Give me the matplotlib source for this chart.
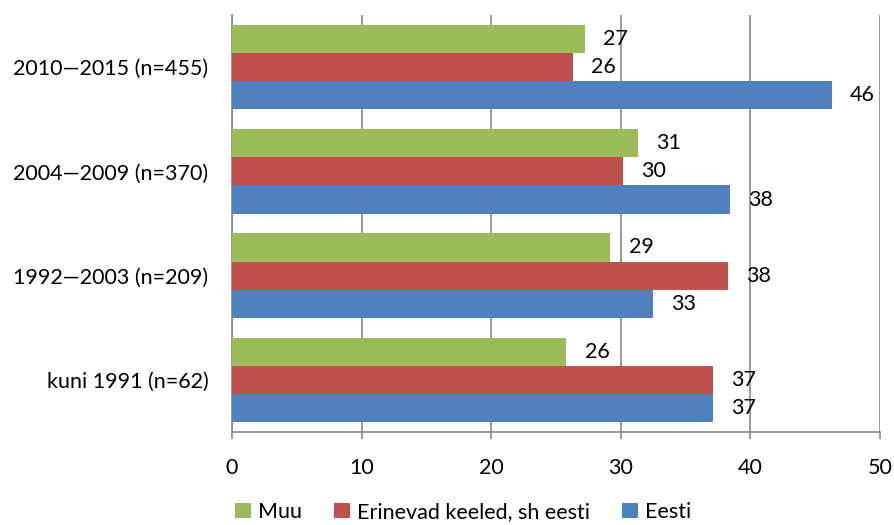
import matplotlib
matplotlib.use('Agg')
import matplotlib.pyplot as plt
import numpy as np

plt.rcParams['font.family'] = ['Lato', 'DejaVu Sans']

# andmed (alt -> üles)
periods = ['kuni 1991 (n=62)', '1992\u20142003 (n=209)', '2004\u20142009 (n=370)', '2010\u20142015 (n=455)']
muu = [25.8, 29.2, 31.3, 27.2]
erinevad = [37.1, 38.3, 30.2, 26.3]
eesti = [37.1, 32.5, 38.4, 46.3]
muu_lbl = [26, 29, 31, 27]
erinevad_lbl = [37, 38, 30, 26]
eesti_lbl = [37, 33, 38, 46]

series = [
    ('Muu', muu, muu_lbl, '#9BBB59'),
    ('Erinevad keeled, sh eesti', erinevad, erinevad_lbl, '#C0504D'),
    ('Eesti', eesti, eesti_lbl, '#4F81BD'),
]

fs = 15.5

fig = plt.figure(figsize=(8.95, 5.25), dpi=100)
ax = fig.add_axes([232 / 895, 1 - 432 / 525, (880 - 232) / 895, (432 - 15) / 525])

y = np.arange(len(periods))
h = 0.27
offsets = [h, 0, -h]
for (name, vals, lbls, col), off in zip(series, offsets):
    bars = ax.barh(y + off, vals, height=h, color=col, label=name, zorder=3)
    for b, lb in zip(bars, lbls):
        ax.text(b.get_width() + 1.4, b.get_y() + b.get_height() / 2, str(lb),
                va='center', ha='left', fontsize=fs, zorder=4)

ax.set_xlim(0, 50)
ax.set_ylim(-0.5, 3.5)
ax.set_xticks(range(0, 51, 10))
ax.set_yticks(y)
ax.set_yticklabels(periods)
ax.grid(axis='x', color='#878787', linewidth=1.2, zorder=0)
ax.tick_params(axis='x', colors='#878787', length=5, width=1.2, labelcolor='black',
               labelsize=fs, pad=14)
ax.tick_params(axis='y', length=0, labelsize=fs, pad=17)
for s in ['top', 'right']:
    ax.spines[s].set_visible(False)
for s in ['left', 'bottom']:
    ax.spines[s].set_color('#878787')
    ax.spines[s].set_linewidth(1.2)

handles, labels = ax.get_legend_handles_labels()
fig.legend(handles, labels, loc='center', bbox_to_anchor=(463 / 895, 1 - 512 / 525), ncol=3,
           frameon=False, fontsize=fs, handlelength=0.75, handleheight=0.75,
           handletextpad=0.3, columnspacing=1.5)

fig.savefig('out.png', dpi=100)
